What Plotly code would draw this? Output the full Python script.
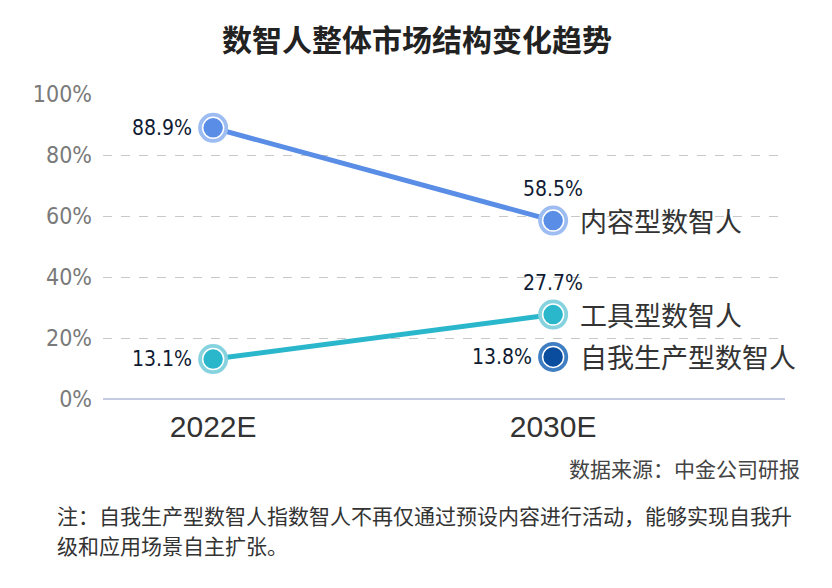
import plotly.graph_objects as go

years = ["2022E", "2030E"]
content_vals = [88.9, 58.5]
tool_vals = [13.1, 27.7]
self_year = ["2030E"]
self_vals = [13.8]
series_names = ["内容型数智人", "工具型数智人", "自我生产型数智人"]
y_ticks = [0, 20, 40, 60, 80, 100]
y_tick_text = ["0%", "20%", "40%", "60%", "80%", "100%"]

c_line = ["#5A8EE6", "#2AB7CC", "#0A4C9E"]
c_ring = ["#9DBDF2", "#86D3DF", "#3F7EC2"]

fig = go.Figure()

def add_series(xs, ys, i, line=True):
    if line:
        fig.add_trace(go.Scatter(x=xs, y=ys, mode="lines",
                                 line=dict(color=c_line[i], width=5),
                                 hoverinfo="skip", showlegend=False))
    fig.add_trace(go.Scatter(x=xs, y=ys, mode="markers",
                             marker=dict(size=30, color=c_ring[i], line=dict(width=0)),
                             hoverinfo="skip", showlegend=False))
    fig.add_trace(go.Scatter(x=xs, y=ys, mode="markers",
                             marker=dict(size=21, color=c_line[i], line=dict(width=1.5, color="white")),
                             hoverinfo="skip", showlegend=False))

add_series(years, content_vals, 0)
add_series(years, tool_vals, 1)
add_series(self_year, self_vals, 2, line=False)

cond = "DejaVu Sans Condensed, Liberation Sans Narrow, Roboto, sans-serif"
lab_font = dict(family=cond, size=21, color="#0F1B33")

def lab(x, y, pos):
    t = f"{y:.1f}%"
    if pos == "left":
        fig.add_annotation(x=x, y=y, text=t, showarrow=False, xanchor="right",
                           yanchor="middle", xshift=-19, font=lab_font)
    else:
        fig.add_annotation(x=x, y=y, text=t, showarrow=False, xanchor="center",
                           yanchor="bottom", yshift=18, font=lab_font)

lab(years[0], content_vals[0], "left")
lab(years[1], content_vals[1], "top")
lab(years[0], tool_vals[0], "left")
lab(years[1], tool_vals[1], "top")
lab(self_year[0], self_vals[0], "left")

name_font = dict(family="Noto Sans CJK SC", size=27, color="#333333")
for name, y in zip(series_names, [content_vals[1], tool_vals[1], self_vals[0]]):
    fig.add_annotation(x="2030E", y=y, text=name, showarrow=False, xanchor="left",
                       yanchor="middle", xshift=25, font=name_font)

fig.add_annotation(xref="paper", yref="paper", x=0.5, y=1, text="<b>数智人整体市场结构变化趋势</b>",
                   showarrow=False, xanchor="center", yanchor="middle", yshift=56, xshift=-27,
                   font=dict(family="Noto Sans CJK SC", size=30, color="#222222"))

fig.update_layout(
    width=832, height=588,
    margin=dict(l=95, r=55, t=86, b=197),
    plot_bgcolor="white", paper_bgcolor="white",
    showlegend=False,
    xaxis=dict(type="category", range=[-0.324, 1.682], showgrid=False, zeroline=False,
               showline=False, ticks="", tickfont=dict(family="Liberation Sans, Arial", size=30, color="#333333"),
               ticklabelstandoff=7),
    yaxis=dict(range=[0, 100], tickvals=y_ticks, ticktext=y_tick_text,
               showgrid=True, gridcolor="#C8C8C8", griddash="dash", gridwidth=1,
               zeroline=True, zerolinecolor="#C5CBE0", zerolinewidth=2,
               showline=False, ticks="",
               tickfont=dict(family=cond, size=23, color="#7A7A7A"),
               ticklabelstandoff=10),
)

fig.add_annotation(xref="paper", yref="paper", x=1, y=0, xanchor="right", yanchor="middle",
                   text="数据来源：中金公司研报", showarrow=False, xshift=17, yshift=-69,
                   font=dict(family="Noto Sans CJK SC", size=21, color="#444444"))
note_lines = ["注：自我生产型数智人指数智人不再仅通过预设内容进行活动，能够实现自我升",
              "级和应用场景自主扩张。"]
for k, line in enumerate(note_lines):
    fig.add_annotation(xref="paper", yref="paper", x=0, y=0, xanchor="left", yanchor="middle",
                       text=line, showarrow=False, align="left", xshift=-48, yshift=-116 - 30 * k,
                       font=dict(family="Noto Sans CJK SC", size=21, color="#333333"))

fig.write_html("out.html")
